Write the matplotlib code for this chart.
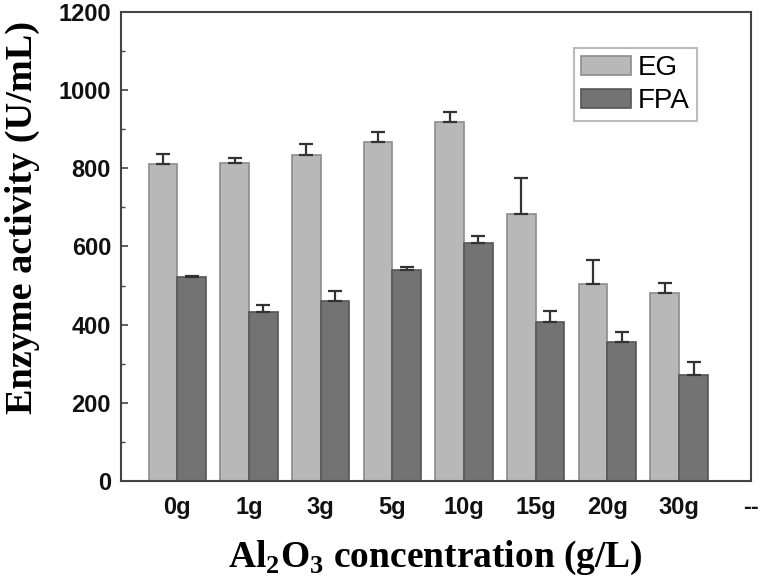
import numpy as np
import matplotlib
matplotlib.use("Agg")
import matplotlib.pyplot as plt
from matplotlib.ticker import MultipleLocator

categories = ["0g", "1g", "3g", "5g", "10g", "15g", "20g", "30g"]
extra_label = "--"
eg_values = [811, 813, 834, 867, 918, 683, 504, 482]
eg_errors = [26, 14, 28, 27, 27, 93, 61, 24]
fpa_values = [521, 432, 461, 540, 608, 408, 355, 271]
fpa_errors = [4, 17, 24, 7, 19, 27, 25, 33]

plt.rcParams['mathtext.fontset'] = 'custom'
plt.rcParams['mathtext.rm'] = 'Liberation Serif:bold'
plt.rcParams['mathtext.bf'] = 'Liberation Serif:bold'

fig = plt.figure(figsize=(7.6, 5.84), dpi=100)
ax = fig.add_axes([0.159, 0.1764, 0.829, 0.8031])

x = np.arange(len(categories))
w = 0.40
ax.bar(x - w/2, eg_values, w, color="#b8b8b8", edgecolor="#8c8c8c", linewidth=1.2,
       yerr=[np.zeros(len(eg_errors)), eg_errors], error_kw=dict(ecolor="#333333", elinewidth=1.6, capsize=5, capthick=1.6),
       label="EG", zorder=2)
ax.bar(x + w/2, fpa_values, w, color="#737373", edgecolor="#555555", linewidth=1.2,
       yerr=[np.zeros(len(fpa_errors)), fpa_errors], error_kw=dict(ecolor="#333333", elinewidth=1.6, capsize=5, capthick=1.6),
       label="FPA", zorder=2)

ax.set_xlim(-0.786, 8.0)
ax.set_ylim(0, 1200)
ax.set_xticks(list(x) + [len(categories)])
ax.set_xticklabels(categories + [extra_label])
ax.yaxis.set_major_locator(MultipleLocator(200))
ax.yaxis.set_minor_locator(MultipleLocator(100))

for sp in ax.spines.values():
    sp.set_color("#444444")
    sp.set_linewidth(1.5)

ax.tick_params(axis='y', which='major', direction='in', length=5, width=1.2, color="#444444", pad=7)
ax.tick_params(axis='y', which='minor', direction='in', length=3, width=1.0, color="#444444")
ax.tick_params(axis='x', which='both', length=0, pad=11)
for lab in ax.get_xticklabels() + ax.get_yticklabels():
    lab.set_fontfamily('Liberation Sans')
    lab.set_fontweight('bold')
    lab.set_fontsize(17)
    lab.set_color('#111111')

ax.set_ylabel("Enzyme activity (U/mL)", fontfamily='Liberation Serif', fontweight='bold', fontsize=27.5)
ax.yaxis.set_label_coords(-0.128, 0.561)
ax.set_xlabel("Al$_2$O$_3$ concentration (g/L)", fontfamily='Liberation Serif',
              fontweight='bold', fontsize=27, labelpad=14)

leg = ax.legend(loc='upper left', bbox_to_anchor=(0.7195, 0.923), borderaxespad=0,
                prop=dict(family='Liberation Sans', size=20), handlelength=1.8, handleheight=0.7,
                labelspacing=0.25, handletextpad=0.25, borderpad=0.25, fancybox=False, framealpha=1)
leg.get_frame().set_edgecolor("#bbbbbb")
leg.get_frame().set_linewidth(1.5)

fig.savefig("out.png", dpi=100)
